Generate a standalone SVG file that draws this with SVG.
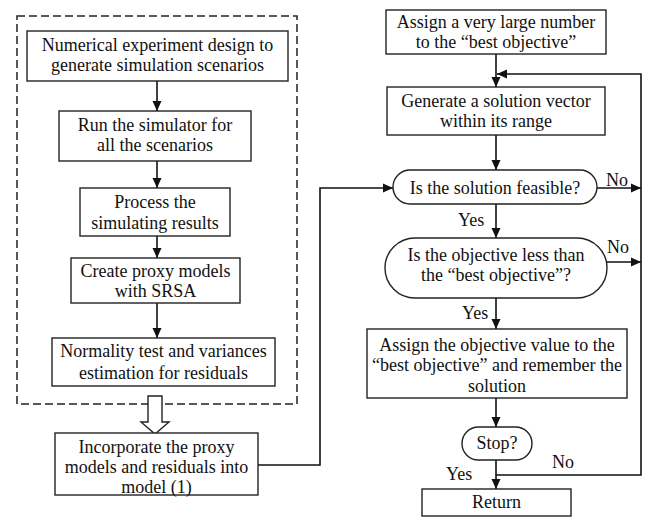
<svg xmlns="http://www.w3.org/2000/svg" width="648" height="517" viewBox="0 0 648 517">
<style>
.b{fill:#fff;stroke:#222;stroke-width:1.4}
.t{font-family:"Liberation Serif","Times New Roman",serif;font-size:18px;fill:#111;text-anchor:middle}
.l{font-family:"Liberation Serif","Times New Roman",serif;font-size:18px;fill:#111}
.c{fill:none;stroke:#111;stroke-width:1.6}
</style>
<defs>
<marker id="ah" markerUnits="userSpaceOnUse" markerWidth="10" markerHeight="10" viewBox="0 0 10 10" refX="10" refY="5" orient="auto">
<path d="M0,0.5 L10,5 L0,9.5 Z" fill="#111"/>
</marker>
</defs>
<rect x="0" y="0" width="648" height="517" fill="#fff"/>
<g id="container">
<rect x="17" y="16" width="280" height="388" fill="none" stroke="#222" stroke-width="1.5" stroke-dasharray="8,4"/>
</g>
<g id="connectors">
<line class="c" x1="157" y1="81" x2="157" y2="111" marker-end="url(#ah)"/>
<line class="c" x1="157" y1="161" x2="157" y2="188" marker-end="url(#ah)"/>
<line class="c" x1="157" y1="236" x2="157" y2="258" marker-end="url(#ah)"/>
<line class="c" x1="157" y1="303" x2="157" y2="338" marker-end="url(#ah)"/>
<path class="b" d="M148,396 L162,396 L162,422 L169,422 L155,434 L141,422 L148,422 Z"/>
<polyline class="c" points="258,465 320,465 320,188 393,188" marker-end="url(#ah)"/>
<line class="c" x1="496" y1="54" x2="496" y2="87" marker-end="url(#ah)"/>
<polyline class="c" points="496,475 641,475 641,74 497,74" marker-end="url(#ah)"/>
<line class="c" x1="496" y1="135" x2="496" y2="170" marker-end="url(#ah)"/>
<line class="c" x1="597" y1="188" x2="641" y2="188" marker-end="url(#ah)"/>
<line class="c" x1="496" y1="204" x2="496" y2="238" marker-end="url(#ah)"/>
<line class="c" x1="607" y1="262" x2="641" y2="262" marker-end="url(#ah)"/>
<line class="c" x1="496" y1="298" x2="496" y2="329" marker-end="url(#ah)"/>
<line class="c" x1="496" y1="398" x2="496" y2="427" marker-end="url(#ah)"/>
<line class="c" x1="496" y1="460" x2="496" y2="489" marker-end="url(#ah)"/>
<text class="l" x="606" y="186">No</text>
<text class="l" x="458" y="226">Yes</text>
<text class="l" x="607" y="253">No</text>
<text class="l" x="462" y="319">Yes</text>
<text class="l" x="446" y="480">Yes</text>
<text class="l" x="552" y="468">No</text>
</g>
<g id="n1">
<rect class="b" x="27" y="31" width="261" height="50"/>
<text class="t" x="157.5" y="51">Numerical experiment design to</text>
<text class="t" x="157.5" y="71">generate simulation scenarios</text>
</g>
<g id="n2">
<rect class="b" x="59" y="111" width="192" height="50"/>
<text class="t" x="155" y="131">Run the simulator for</text>
<text class="t" x="155" y="151">all the scenarios</text>
</g>
<g id="n3">
<rect class="b" x="80" y="188" width="150" height="48"/>
<text class="t" x="155" y="208">Process the</text>
<text class="t" x="155" y="229">simulating results</text>
</g>
<g id="n4">
<rect class="b" x="71" y="258" width="169" height="45"/>
<text class="t" x="155.5" y="277">Create proxy models</text>
<text class="t" x="155.5" y="297">with SRSA</text>
</g>
<g id="n5">
<rect class="b" x="52" y="338" width="223" height="48"/>
<text class="t" x="163.5" y="357">Normality test and variances</text>
<text class="t" x="163.5" y="379">estimation for residuals</text>
</g>
<g id="n6">
<rect class="b" x="55" y="433" width="203" height="62"/>
<text class="t" x="156.5" y="453">Incorporate the proxy</text>
<text class="t" x="156.5" y="473">models and residuals into</text>
<text class="t" x="156.5" y="493">model (1)</text>
</g>
<g id="r1">
<rect class="b" x="386" y="10" width="220" height="44"/>
<text class="t" x="496" y="28">Assign a very large number</text>
<text class="t" x="496" y="48">to the “best objective”</text>
</g>
<g id="r2">
<rect class="b" x="387" y="87" width="218" height="48"/>
<text class="t" x="496" y="107">Generate a solution vector</text>
<text class="t" x="496" y="127">within its range</text>
</g>
<g id="r3">
<rect class="b" x="393" y="170" width="204" height="34" rx="17" ry="17"/>
<text class="t" x="495" y="194">Is the solution feasible?</text>
</g>
<g id="r4">
<rect class="b" x="385" y="238" width="222" height="60" rx="30" ry="30"/>
<text class="t" x="496" y="261">Is the objective less than</text>
<text class="t" x="496" y="281">the “best objective”?</text>
</g>
<g id="r5">
<rect class="b" x="367" y="329" width="260" height="69"/>
<text class="t" x="497" y="351">Assign the objective value to the</text>
<text class="t" x="497" y="371">“best objective” and remember the</text>
<text class="t" x="497" y="392">solution</text>
</g>
<g id="r6">
<rect class="b" x="462" y="427" width="70" height="33" rx="16.5" ry="16.5"/>
<text class="t" x="497" y="449">Stop?</text>
</g>
<g id="r7">
<rect class="b" x="422" y="489" width="149" height="27"/>
<text class="t" x="496.5" y="508">Return</text>
</g>
</svg>
